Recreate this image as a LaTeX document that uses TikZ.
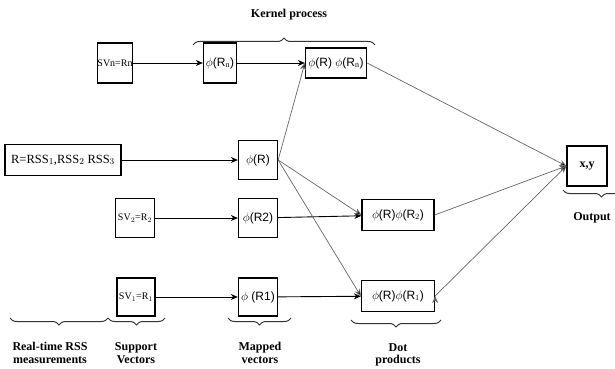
\documentclass[tikz,border=0pt]{standalone}
\usepackage{fontspec}
\setmainfont{Liberation Serif}
\newfontfamily\arialfont{Liberation Sans}
\usetikzlibrary{positioning, arrows, arrows.meta, decorations.pathreplacing}
\tikzset{
    ->, % Directed edges
    >={Stealth[length=7pt, width=6pt]}, % Filled arrowheads
    box/.style={draw, line width=1.3pt, inner sep=0pt, font=\fontsize{10}{12}\selectfont}, % Boxes
    phibox/.style={box, font=\arialfont\fontsize{12}{14}\selectfont}, % Mapped and dot boxes
    thin line/.style={draw=black!60, line width=0.7pt}, % Grey connectors
    curly/.style={-, draw=black!80, line width=1pt, decorate, decoration={brace, amplitude=7pt}},
    caption/.style={font=\bfseries\fontsize{12}{12.5}\selectfont, align=center, inner sep=0pt},
}

\begin{document}
\begin{tikzpicture}[x=1pt, y=-1pt]
    \useasboundingbox (0,0) rectangle (615,369);

    % inputs and support vectors
    \node[box, minimum width=34pt, minimum height=40pt] (svn) at (115,63) {SVn=Rn};
    \node[box, font=\fontsize{12.5}{14}\selectfont, minimum width=116pt, minimum height=31pt] (r) at (63,160) {R=RSS$_1$,RSS$_2$ RSS$_3$};
    \node[box, minimum width=39pt, minimum height=39pt] (sv2) at (135,218) {SV$_2$=R$_2$};
    \node[box, minimum width=38pt, minimum height=38pt] (sv1) at (136,297) {SV$_1$=R$_1$};

    % mapped vectors
    \node[phibox, minimum width=33pt, minimum height=40pt] (phin) at (220,63) {$\phi$(R$_\mathrm{n}$)};
    \node[phibox, minimum width=39pt, minimum height=39pt] (phir) at (258,160) {$\phi$(R)};
    \node[phibox, minimum width=39pt, minimum height=39pt] (phi2) at (258,218) {$\phi$(R2)};
    \node[phibox, minimum width=39pt, minimum height=38pt] (phi1) at (258,297) {$\phi$ (R1)};

    % dot products
    \node[phibox, minimum width=61pt, minimum height=30pt] (dotn) at (336,63) {$\phi$(R) $\phi$(R$_\mathrm{n}$)};
    \node[phibox, minimum width=72pt, minimum height=31pt] (dot2) at (398,215) {$\phi$(R)$\phi$(R$_2$)};
    \node[phibox, minimum width=73pt, minimum height=31pt] (dot1) at (398,296) {$\phi$(R)$\phi$(R$_1$)};

    % output
    \node[box, font=\bfseries\fontsize{12}{14}\selectfont, minimum width=40pt, minimum height=40pt] (xy) at (587,166) {x,y};

    \path[line width=0.9pt]
        (svn) edge (phin)
        (phin) edge (dotn)
        (r) edge (phir)
        (sv2) edge (phi2)
        (phi2) edge (dot2)
        (sv1) edge (phi1)
        (phi1) edge (dot1);
    \path[thin line]
        (phir.east) edge (dotn.west)
                    edge (dot2.west)
                    edge (dot1.west)
        (dotn.east) edge (xy.west)
        (dot2.east) edge (xy.west)
        (dot1.east) edge (xy.west);

    % braces and captions
    \draw[curly] (193,45) -- (375,45);
    \node[caption] (kernel) at (289,15) {Kernel process};
    \draw[curly] (108,318) -- (10,318);
    \node[caption] (realtime) at (50,353) {Real-time RSS\\measurements};
    \draw[curly] (165,318) -- (108,318);
    \node[caption] (support) at (136,353) {Support\\Vectors};
    \draw[curly] (291,318) -- (228,318);
    \node[caption] (mapped) at (260,353) {Mapped\\vectors};
    \draw[curly] (441,320) -- (351,320);
    \node[caption] (dots) at (398,355) {Dot\\products};
    \draw[curly] (640,190) -- (563,190);
    \node[caption] (output) at (592,218) {Output};
\end{tikzpicture}
\end{document}
